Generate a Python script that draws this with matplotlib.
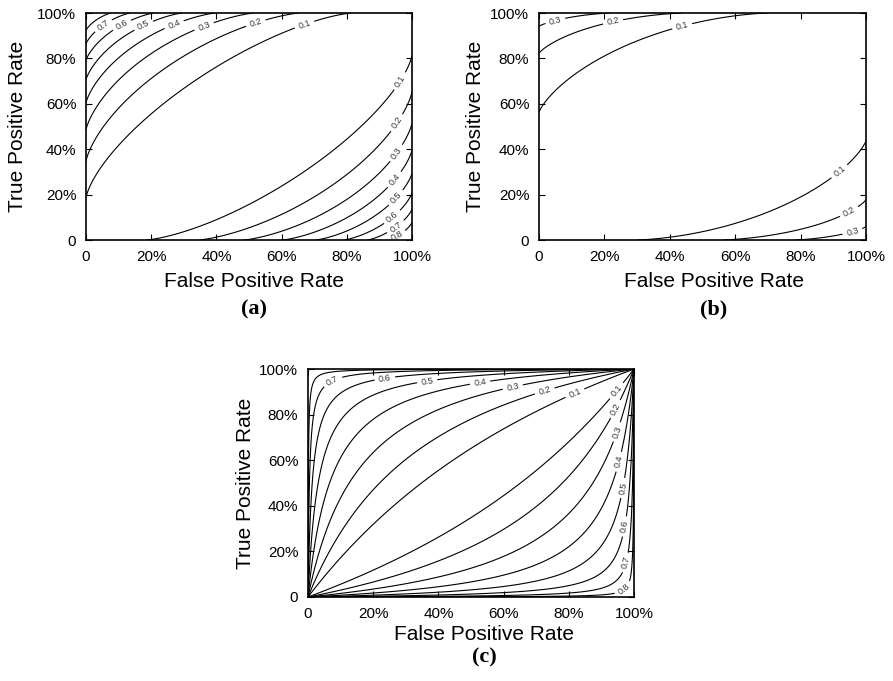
import numpy as np
import matplotlib
matplotlib.use("Agg")
import matplotlib.pyplot as plt
from matplotlib.ticker import FixedLocator

plt.rcParams['font.family'] = ['Liberation Sans', 'DejaVu Sans']

# ticks of the ROC space (both axes)
tick_values = [0.0, 0.2, 0.4, 0.6, 0.8, 1.0]
tick_labels = ["0", "20%", "40%", "60%", "80%", "100%"]

# (a) information gain, balanced classes
prior_a = 0.5
levels_a = [0.1, 0.2, 0.3, 0.4, 0.5, 0.6, 0.7, 0.8]
# (b) information gain, skewed classes (share of positives)
prior_b = 0.91
levels_b = [0.1, 0.2, 0.3]
# (c) odds-ratio based measure
scale_c = 6.25
levels_c = [0.1, 0.2, 0.3, 0.4, 0.5, 0.6, 0.7, 0.8]

captions = ["(a)", "(b)", "(c)"]


def entropy(p):
    p = np.clip(p, 1e-12, 1 - 1e-12)
    return -(p * np.log2(p) + (1 - p) * np.log2(1 - p))


def info_gain(fpr, tpr, pos):
    neg = 1 - pos
    tp = pos * tpr
    fp = neg * fpr
    cov = tp + fp
    unc = 1 - cov
    p_cov = tp / np.maximum(cov, 1e-12)
    p_unc = (pos - tp) / np.maximum(unc, 1e-12)
    return entropy(pos) - cov * entropy(p_cov) - unc * entropy(p_unc)


def odds_measure(fpr, tpr, scale):
    eps = 1e-5
    f = np.clip(fpr, eps, 1 - eps)
    t = np.clip(tpr, eps, 1 - eps)
    lor = np.log(t / (1 - t)) - np.log(f / (1 - f))
    return np.abs(np.tanh(lor / scale))


grid = np.linspace(0, 1, 801)
X, Y = np.meshgrid(grid, grid)

fig = plt.figure(figsize=(8.93, 6.81), dpi=100)
W, H = 893.0, 681.0


def make_axes(left, top, right, bottom):
    return fig.add_axes([left / W, 1 - bottom / H, (right - left) / W, (bottom - top) / H])


def style(ax, caption, xl, yl, cap_y):
    ax.set_xlim(0, 1)
    ax.set_ylim(0, 1)
    ax.xaxis.set_major_locator(FixedLocator(tick_values))
    ax.yaxis.set_major_locator(FixedLocator(tick_values))
    ax.set_xticklabels(tick_labels, fontsize=11)
    ax.set_yticklabels(tick_labels, fontsize=11)
    ax.tick_params(direction='in', length=4, width=0.8, top=True, right=True, pad=7)
    for s in ax.spines.values():
        s.set_linewidth(1.2)
    ax.set_xlabel("False Positive Rate", fontsize=15)
    ax.set_ylabel("True Positive Rate", fontsize=15)
    ax.xaxis.set_label_coords(*xl)
    ax.yaxis.set_label_coords(*yl)
    ax.text(xl[0], cap_y, caption, transform=ax.transAxes, ha='center', va='center',
            fontsize=16, fontweight='bold', family='Liberation Serif')


def draw(ax, Z, levels, spots):
    cs = ax.contour(X, Y, Z, levels=levels, colors='black', linewidths=0.8)
    ax.clabel(cs, inline=True, fontsize=6.5, fmt='%.1f', manual=spots, inline_spacing=4,
              colors='#333333')


# panel (a)
ax_a = make_axes(86, 13, 412, 240)
spots_a = [(0.052, 0.947), (0.11, 0.947), (0.175, 0.95), (0.27, 0.95), (0.36, 0.95),
           (0.52, 0.96), (0.67, 0.95),
           (0.963, 0.70), (0.955, 0.515), (0.955, 0.38), (0.948, 0.264), (0.948, 0.19),
           (0.94, 0.10), (0.948, 0.062), (0.948, 0.03)]
draw(ax_a, info_gain(X, Y, prior_a), levels_a, spots_a)
style(ax_a, captions[0], (0.515, -0.14), (-0.18, 0.5), -0.305)

# panel (b)
ax_b = make_axes(539, 13, 866, 240)
spots_b = [(0.05, 0.965), (0.226, 0.965), (0.437, 0.947),
           (0.92, 0.30), (0.95, 0.12), (0.96, 0.03)]
draw(ax_b, info_gain(X, Y, prior_b), levels_b, spots_b)
style(ax_b, captions[1], (0.535, -0.14), (-0.165, 0.5), -0.305)

# panel (c)
ax_c = make_axes(308, 369, 634, 597)
spots_c = [(0.077, 0.943), (0.236, 0.956), (0.365, 0.952), (0.528, 0.939), (0.629, 0.917),
           (0.727, 0.9), (0.82, 0.89),
           (0.936, 0.917), (0.936, 0.83), (0.948, 0.724), (0.957, 0.592), (0.966, 0.478),
           (0.979, 0.307), (0.979, 0.149), (0.966, 0.04)]
draw(ax_c, odds_measure(X, Y, scale_c), levels_c, spots_c)
style(ax_c, captions[2], (0.54, -0.125), (-0.163, 0.5), -0.265)

fig.savefig("out.png", dpi=100)
